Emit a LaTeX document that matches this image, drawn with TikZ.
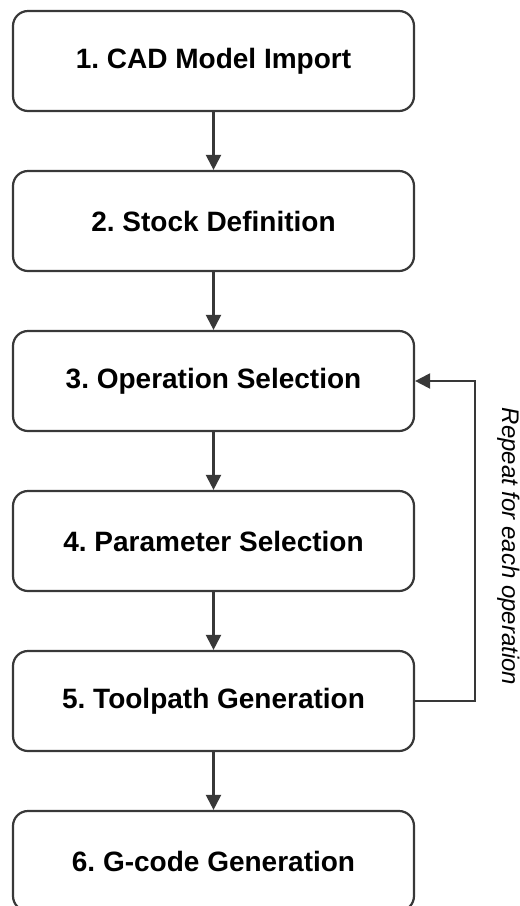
\documentclass[tikz,border=0pt]{standalone}
\usepackage{fontspec}
\setmainfont{Liberation Sans}
\usetikzlibrary{arrows.meta}
\definecolor{linegray}{HTML}{383838}
\frenchspacing

\begin{document}
\begin{tikzpicture}[x=1pt,y=-1pt,
	stepbox/.style={draw=linegray,line width=2.2pt,rounded corners=15pt,minimum width=401pt,minimum height=100pt,inner sep=0pt,font=\fontsize{28}{34}\selectfont\bfseries},
	arr/.style={draw=linegray,line width=2.2pt,-{Triangle[length=15pt,width=15pt]}}]
			\useasboundingbox (0,0) rectangle (520,906);
			\foreach \i/\t in {1/1. CAD Model Import,2/2. Stock Definition,3/3. Operation Selection,4/4. Parameter Selection,5/5. Toolpath Generation,6/6. G-code Generation}
				\node[stepbox] (s\i) at (213.5,61+160*\i-160) {\t};
			\foreach \i [evaluate=\i as \j using int(\i+1)] in {1,...,5}
				\draw[arr] (s\i)--(s\j);
			
			% loop back
			\draw[arr] (s5.east)--++(60,0) |- (s3.east);
			\node[rotate=-90,anchor=base,inner sep=0pt,font=\fontsize{24}{29}\selectfont\itshape] (rep) at (502,546.5) {Repeat for each operation};
		\end{tikzpicture}
\end{document}
